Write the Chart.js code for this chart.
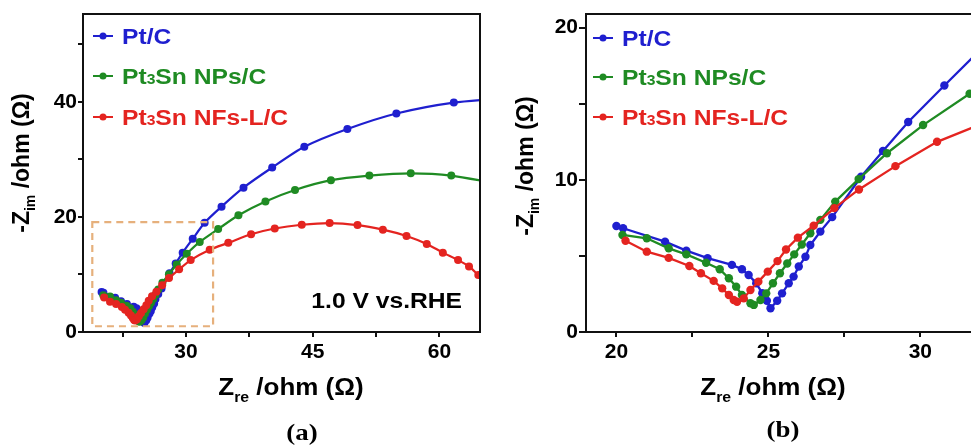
<!DOCTYPE html>
<html><head><meta charset="utf-8">
<script src="https://cdn.jsdelivr.net/npm/chart.js@4/dist/chart.umd.min.js"></script>
<style>
html,body{margin:0;padding:0;background:#fff;overflow:hidden;width:971px;height:446px;position:relative;}
#wa{position:absolute;left:0;top:0;width:485px;height:446px;}
#wb{position:absolute;left:485px;top:0;width:520px;height:446px;}
</style></head><body>
<div id="wa"><canvas id="ca"></canvas></div>
<div id="wb"><canvas id="cb"></canvas></div>
<script>
// ---- data (Z_re, -Z_im in ohm) ----
const seriesNames = ['Pt/C', 'Pt3Sn NPs/C', 'Pt3Sn NFs-L/C'];
const seriesColors = ['#1f1fcf', '#1f8b23', '#e42420'];

const ptcX = [20.0, 20.22, 21.6, 22.3, 23.0, 23.8, 24.13, 24.35, 24.6, 24.8, 24.95, 25.07, 25.29, 25.45, 25.67, 25.83, 26.0, 26.22, 26.38, 26.71, 27.1, 28.05, 28.77, 29.6, 30.79, 32.2, 34.2, 36.8, 40.2, 44.0, 49.1, 54.9, 61.7, 69.0];
const ptcY = [6.97, 6.82, 5.94, 5.35, 4.85, 4.41, 4.12, 3.75, 3.2, 2.55, 2.05, 1.56, 2.05, 2.54, 3.2, 3.64, 4.3, 4.95, 5.72, 6.6, 7.55, 10.2, 11.9, 13.8, 16.2, 19.0, 21.8, 25.1, 28.6, 32.2, 35.3, 38.0, 39.9, 40.8];

const npsX = [20.2, 21.0, 21.72, 22.3, 22.95, 23.4, 23.7, 23.94, 24.13, 24.41, 24.52, 24.74, 24.93, 25.15, 25.38, 25.62, 25.85, 26.1, 26.38, 26.71, 27.2, 27.97, 28.9, 30.09, 31.62, 33.8, 36.2, 39.4, 42.9, 47.15, 51.7, 56.6, 61.4, 67.5];
const npsY = [6.38, 6.16, 5.5, 5.1, 4.55, 4.12, 3.53, 2.98, 2.43, 1.89, 1.78, 2.1, 2.54, 3.2, 3.86, 4.5, 5.1, 5.75, 6.49, 7.37, 8.57, 10.05, 11.75, 13.6, 15.66, 17.9, 20.3, 22.7, 24.7, 26.4, 27.2, 27.6, 27.2, 25.6];

const nfsX = [20.3, 21.0, 21.72, 22.4, 22.78, 23.2, 23.48, 23.7, 23.86, 23.97, 24.19, 24.41, 24.67, 24.98, 25.3, 25.58, 25.97, 26.49, 27.17, 27.98, 29.18, 30.55, 32.8, 35.0, 37.7, 40.5, 43.7, 47.0, 50.3, 53.3, 56.1, 58.5, 60.4, 62.2, 63.5, 64.6, 65.6];
const nfsY = [6.0, 5.28, 4.87, 4.34, 3.86, 3.36, 2.87, 2.43, 2.1, 1.99, 2.21, 2.76, 3.31, 3.97, 4.66, 5.42, 6.2, 6.99, 8.14, 9.37, 10.9, 12.5, 14.3, 15.5, 17.0, 18.0, 18.65, 18.95, 18.6, 17.8, 16.7, 15.3, 13.8, 12.5, 11.4, 9.9, 8.6];

// ---- ticks ----
const xMajorA = [30, 45, 60];
const xMinorA = [22.5, 37.5, 52.5];
const yMajorA = [0, 20, 40];
const yMinorA = [10, 30, 50];
const xMajorB = [20, 25, 30];
const xMinorB = [22.5, 27.5, 32.5];
const yMajorB = [0, 10, 20];
const yMinorB = [5, 15];

const annotationText = '1.0 V vs.RHE';
const zoomBox = {x0: 18.9, x1: 33.2, y0: 1.0, y1: 19.1};

const FONT = '"Liberation Sans", Arial, sans-serif';
const SERIF = '"Liberation Serif", "Times New Roman", serif';

function pts(xs, ys) { return xs.map((x, i) => ({x: x, y: ys[i]})); }
const allX = [ptcX, npsX, nfsX];
const allY = [ptcY, npsY, nfsY];

function drawRuns(ctx, runs, x, y, align, sx, rot) {
  ctx.save();
  let w = 0;
  runs.forEach(r => {
    ctx.font = (r.weight || 'bold') + ' ' + r.size + 'px ' + (r.family || FONT);
    r.w = ctx.measureText(r.t).width; w += r.w;
  });
  ctx.translate(x, y);
  if (rot) ctx.rotate(rot);
  ctx.scale(sx || 1, 1);
  let cx = align === 'center' ? -w / 2 : (align === 'right' ? -w : 0);
  ctx.textBaseline = 'alphabetic'; ctx.textAlign = 'left';
  runs.forEach(r => {
    ctx.font = (r.weight || 'bold') + ' ' + r.size + 'px ' + (r.family || FONT);
    ctx.fillStyle = r.color || '#000';
    ctx.fillText(r.t, cx, r.dy || 0);
    cx += r.w;
  });
  ctx.restore();
}

function nameRuns(name, color, size) {
  return name.split(/(\d)/).filter(s => s.length).map(s =>
    /^\d$/.test(s) ? {t: s, size: Math.round(size * 0.62), color: color} : {t: s, size: size, color: color});
}

function makeDeco(cfg) {
  return {
    id: 'deco' + cfg.panel,
    afterDatasetsDraw(chart) {
      const ctx = chart.ctx, a = chart.chartArea, xs = chart.scales.x, ys = chart.scales.y;
      ctx.save();
      if (cfg.box) {
        const bx0 = xs.getPixelForValue(cfg.box.x0), bx1 = xs.getPixelForValue(cfg.box.x1);
        const by0 = ys.getPixelForValue(cfg.box.y0), by1 = ys.getPixelForValue(cfg.box.y1);
        ctx.strokeStyle = '#e6b07c'; ctx.lineWidth = 2.2; ctx.setLineDash([7, 5]);
        ctx.strokeRect(bx0, by1, bx1 - bx0, by0 - by1);
        ctx.setLineDash([]);
      }
      ctx.strokeStyle = '#111'; ctx.lineWidth = 2;
      ctx.strokeRect(a.left, a.top, a.right - a.left, a.bottom - a.top);
      cfg.legendY.forEach((ly, i) => {
        const c = seriesColors[i];
        ctx.strokeStyle = c; ctx.lineWidth = 2;
        ctx.beginPath(); ctx.moveTo(cfg.legendX, ly); ctx.lineTo(cfg.legendX + 20, ly); ctx.stroke();
        ctx.fillStyle = c; ctx.beginPath(); ctx.arc(cfg.legendX + 10, ly, 3.5, 0, Math.PI * 2); ctx.fill();
        drawRuns(ctx, nameRuns(seriesNames[i], c, 22), cfg.legendX + 29, ly + 8, 'left', 1.12);
      });
      if (cfg.note) drawRuns(ctx, [{t: annotationText, size: 22}], 462, 308, 'right', 1.12);
      drawRuns(ctx, [{t: 'Z', size: 23}, {t: 're', size: 14, dy: 7}, {t: ' /ohm (Ω)', size: 23}], cfg.xtX, 395, 'center', 1.13);
      drawRuns(ctx, [{t: '-Z', size: 23}, {t: 'im', size: 14, dy: 6}, {t: ' /ohm (Ω)', size: 23}], cfg.ytX, cfg.ytY, 'center', 1, -Math.PI / 2);
      drawRuns(ctx, [{t: cfg.label, size: 24, family: SERIF}], cfg.labX, cfg.labY, 'center', 1.12);
      ctx.restore();
    }
  };
}

function makeChart(id, cfg) {
  const datasets = seriesNames.map((n, i) => ({
    label: n,
    data: pts(allX[i], allY[i]),
    order: seriesNames.length - 1 - i,
    showLine: true,
    borderColor: seriesColors[i],
    backgroundColor: seriesColors[i],
    borderWidth: cfg.bw,
    pointRadius: cfg.pr,
    pointHoverRadius: cfg.pr,
    pointBorderWidth: 0,
    tension: cfg.tension
  }));
  const tickFont = {family: FONT, size: 21, weight: 'bold'};
  return new Chart(document.getElementById(id), {
    type: 'scatter',
    data: {datasets: datasets},
    options: {
      responsive: true, maintainAspectRatio: false, animation: false,
      layout: {padding: {left: 0, top: 14, right: cfg.padR, bottom: 0}},
      plugins: {legend: {display: false}, tooltip: {enabled: false}},
      scales: {
        x: {
          type: 'linear', min: cfg.xmin, max: cfg.xmax,
          afterBuildTicks: s => { s.ticks = cfg.xMaj.concat(cfg.xMin).sort((p, q) => p - q).map(v => ({value: v})); },
          afterFit: s => { s.height = 446 - 332; },
          ticks: {font: tickFont, color: '#000', padding: 3, maxRotation: 0, autoSkip: false,
                  callback: v => cfg.xMaj.includes(v) ? String(v) : ''},
          grid: {display: true, drawOnChartArea: false, drawTicks: true, tickLength: 5, color: '#111', lineWidth: 2},
          border: {display: true, color: '#111', width: 2}
        },
        y: {
          type: 'linear', min: 0, max: cfg.ymax,
          afterBuildTicks: s => { s.ticks = cfg.yMaj.concat(cfg.yMin).sort((p, q) => p - q).map(v => ({value: v})); },
          afterFit: s => { s.width = cfg.yW; },
          ticks: {font: tickFont, color: '#000', padding: 1, autoSkip: false,
                  callback: v => cfg.yMaj.includes(v) ? String(v) : ''},
          grid: {display: true, drawOnChartArea: false, drawTicks: true, tickLength: cfg.ytl, color: '#111', lineWidth: 2},
          border: {display: true, color: '#111', width: 2}
        }
      }
    },
    plugins: [makeDeco(cfg)]
  });
}

makeChart('ca', {
  panel: 'a', xmin: 17.8, xmax: 64.8, ymax: 55.3, padR: 5, yW: 83, ytl: 5, pr: 4, bw: 2.2, tension: 0.25,
  xMaj: xMajorA, xMin: xMinorA, yMaj: yMajorA, yMin: yMinorA,
  box: zoomBox, note: true, legendX: 93, legendY: [36, 76, 117],
  xtX: 291, ytX: 29, ytY: 163, label: '(a)', labX: 302, labY: 440
});
makeChart('cb', {
  panel: 'b', xmin: 19.0, xmax: 32.62, ymax: 20.9, padR: 5, yW: 101, ytl: 7, pr: 4.2, bw: 2.3, tension: 0,
  xMaj: xMajorB, xMin: xMinorB, yMaj: yMajorB, yMin: yMinorB,
  box: null, note: false, legendX: 108, legendY: [38, 77, 117],
  xtX: 288, ytX: 48, ytY: 166, label: '(b)', labX: 298, labY: 437
});
</script>
</body></html>
